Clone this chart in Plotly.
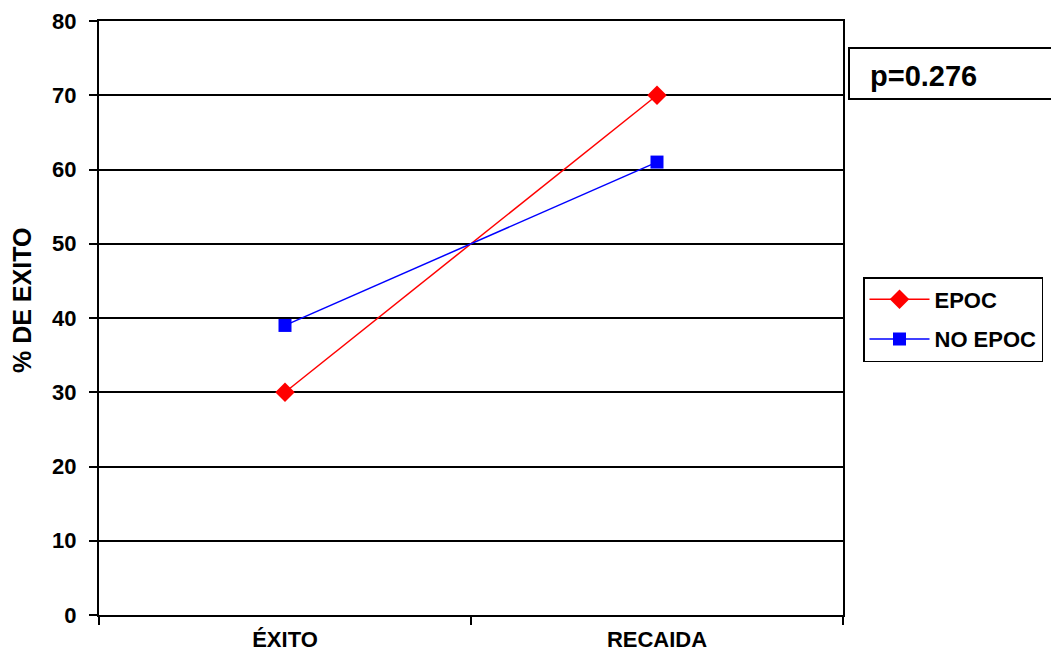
import plotly.graph_objects as go

# Data
categories = ["ÉXITO", "RECAIDA"]
epoc = [30, 70]
no_epoc = [39, 61]
p_text = "p=0.276"
y_title = "% DE EXITO"

FONT = "Liberation Sans, Arial, sans-serif"

fig = go.Figure()
fig.add_trace(go.Scatter(
    x=categories, y=epoc, name="EPOC", mode="lines+markers",
    legendgroup="a",
    line=dict(color="#ff0000", width=1.5),
    marker=dict(symbol="diamond", size=15, color="#ff0000"),
))
fig.add_trace(go.Scatter(
    x=categories, y=no_epoc, name="NO EPOC", mode="lines+markers",
    legendgroup="b",
    line=dict(color="#0000ff", width=1.5),
    marker=dict(symbol="square", size=13, color="#0000ff"),
))

L, R, T, B = 99, 208, 21, 49
W, H = 1051, 664
pw, ph = W - L - R, H - T - B

def px_x(px):
    return (px - L) / pw

def px_y(py):
    return (H - B - py) / ph

fig.update_layout(
    width=W, height=H,
    margin=dict(l=L, r=R, t=T, b=B, pad=0, autoexpand=False),
    paper_bgcolor="white", plot_bgcolor="white",
    font=dict(family=FONT, color="black"),
    showlegend=True,
    legend=dict(
        x=px_x(863), y=px_y(277), xanchor="left", yanchor="top",
        bordercolor="black", borderwidth=1.5, bgcolor="white",
        font=dict(size=22, family=FONT, weight="bold", color="black"),
        tracegroupgap=8, itemwidth=60,
    ),
    xaxis=dict(
        type="category", range=[-0.5, 1.5], automargin=False,
        showgrid=False, showline=True, linecolor="black", linewidth=2,
        mirror=True, ticks="outside", tickson="boundaries",
        ticklen=8, tickwidth=1.5, tickcolor="black",
        ticklabelstandoff=4,
        tickfont=dict(size=22, family=FONT, weight="bold", color="black"),
    ),
    yaxis=dict(
        range=[0, 80], dtick=10, tick0=0, automargin=False,
        showgrid=True, gridcolor="black", gridwidth=2,
        zeroline=False, showline=True, linecolor="black", linewidth=2,
        mirror=True, ticks="outside", ticklen=8, tickwidth=1.5,
        tickcolor="black", ticklabelstandoff=8,
        tickfont=dict(size=22, family=FONT, weight="bold", color="black"),
    ),
    shapes=[dict(
        type="rect", xref="paper", yref="paper",
        x0=px_x(849), x1=px_x(1060), y0=px_y(99), y1=px_y(48),
        line=dict(color="black", width=2), fillcolor="white",
    )],
    annotations=[
        dict(
            text=p_text, xref="paper", yref="paper",
            x=px_x(868), y=px_y(76), xanchor="left", yanchor="middle",
            showarrow=False,
            font=dict(size=29, family=FONT, weight="bold", color="black"),
        ),
        dict(
            text=y_title, xref="paper", yref="paper",
            x=px_x(22), y=px_y(301), xanchor="center", yanchor="middle",
            textangle=-90, showarrow=False,
            font=dict(size=25, family=FONT, weight="bold", color="black"),
        ),
    ],
)

fig.write_html("out.html")
